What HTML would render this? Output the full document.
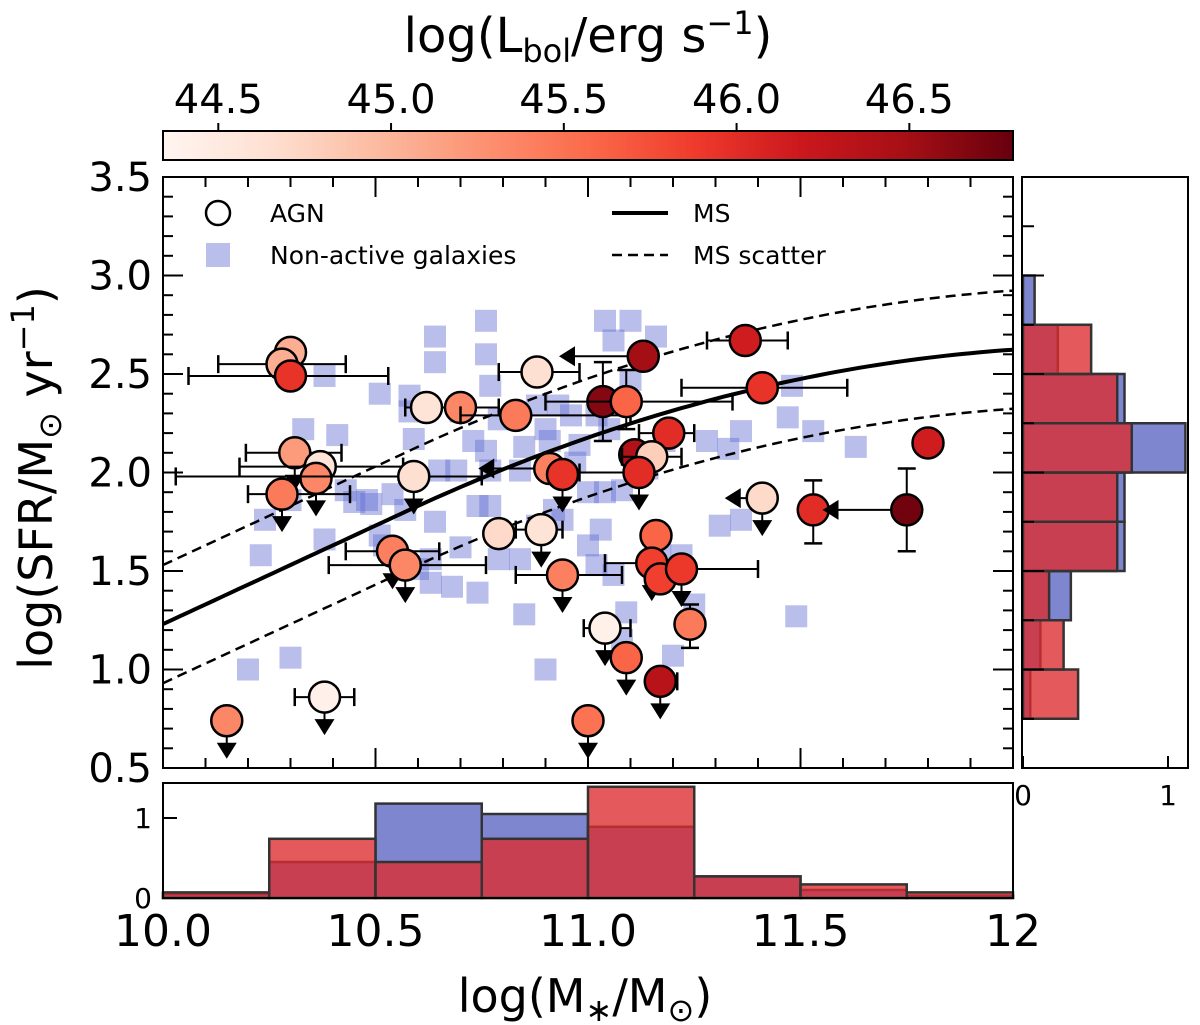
<!DOCTYPE html>
<html><head><meta charset="utf-8">
<style>
html,body{margin:0;padding:0;background:#fff;}
svg{display:block;font-family:"DejaVu Sans","Liberation Sans",sans-serif;}
</style></head>
<body>
<svg id="fig" width="1200" height="1025" viewBox="0 0 1200 1025">
<defs>
<linearGradient id="reds" x1="0" x2="1" y1="0" y2="0">
<stop offset="0" stop-color="#fff5f0"/><stop offset="0.125" stop-color="#fee0d2"/><stop offset="0.25" stop-color="#fcbba1"/>
<stop offset="0.375" stop-color="#fc9272"/><stop offset="0.5" stop-color="#fb6a4a"/><stop offset="0.625" stop-color="#ef3b2c"/>
<stop offset="0.75" stop-color="#cb181d"/><stop offset="0.875" stop-color="#a50f15"/><stop offset="1" stop-color="#67000d"/>
</linearGradient>
<clipPath id="mainclip"><rect x="163" y="177" width="850" height="591"/></clipPath>
</defs>
<g id="colorbar">
<rect x="163" y="131" width="850" height="29" fill="url(#reds)" stroke="#000" stroke-width="2"/>
<text x="588" y="52" font-size="48" text-anchor="middle">log(L<tspan font-size="32" dy="10">bol</tspan><tspan dy="-10">/erg s</tspan><tspan font-size="32" dy="-18">−1</tspan><tspan dy="18">)</tspan></text>
</g>
<g id="cbticks"></g>
<g id="main">
<g id="squares" clip-path="url(#mainclip)"></g>
<g id="mslines" clip-path="url(#mainclip)"></g>
<g id="agn"></g>
<rect x="163" y="177" width="850" height="591" fill="none" stroke="#000" stroke-width="2"/>
<g id="mainticks"></g>
</g>
<g id="legend">
<circle cx="218" cy="213" r="12" fill="#fff" stroke="#000" stroke-width="2.5"/>
<text x="270" y="222" font-size="25">AGN</text>
<rect x="206" y="243" width="24" height="24" fill="rgba(100,110,210,0.45)"/>
<text x="270" y="264" font-size="25">Non-active galaxies</text>
<line x1="612" y1="213" x2="668" y2="213" stroke="#000" stroke-width="4"/>
<text x="693" y="222" font-size="25">MS</text>
<line x1="612" y1="255" x2="668" y2="255" stroke="#000" stroke-width="2.5" stroke-dasharray="10,6"/>
<text x="693" y="264" font-size="25">MS scatter</text>
</g>
<g id="bottomhist"></g>
<g id="righthist"></g>
<text x="585" y="1012" font-size="46" text-anchor="middle">log(M<tspan font-size="32" dy="9">∗</tspan><tspan dy="-9">/M</tspan><tspan font-size="32" dy="9">⊙</tspan><tspan dy="-9">)</tspan></text>
<text transform="translate(52,478) rotate(-90)" font-size="46" text-anchor="middle">log(SFR/M<tspan font-size="32" dy="9">⊙</tspan><tspan dy="-9"> yr</tspan><tspan font-size="32" dy="-18">−1</tspan><tspan dy="18">)</tspan></text>
</svg>
<script>
// ---------- data ----------
const nonX = [10.76,10.64,11.04,11.10,11.06,11.16,10.64,10.38,10.51,10.58,10.43,10.33,10.31,10.30,10.23,10.30,10.20,10.38,10.59,10.76,10.77,10.88,10.93,10.79,10.70,10.58,11.02,11.10,10.96,10.73,10.65,10.76,10.77,10.69,10.85,10.84,10.90,10.91,10.98,11.05,10.97,11.12,11.08,11.04,11.03,11.00,10.92,10.88,10.77,10.74,10.70,10.64,10.57,10.54,10.48,10.45,10.60,10.63,10.79,10.84,10.51,10.68,10.63,10.85,10.90,11.09,11.20,11.25,11.08,11.06,11.02,11.17,11.22,11.31,11.36,11.33,11.36,11.47,11.53,11.63,11.48,11.14,11.18,11.28,11.49,11.00,10.94,10.74,10.52,10.41,10.49,10.24];
const nonY = [2.77,2.69,2.77,2.77,2.67,2.69,2.56,2.49,2.40,2.39,1.91,2.22,2.09,1.86,1.58,1.06,1.00,1.66,2.17,2.60,2.44,2.34,2.34,2.27,2.31,2.31,2.29,2.47,2.29,2.16,2.01,2.11,2.01,2.01,2.13,2.01,2.22,2.16,2.14,2.22,2.05,2.01,1.91,1.90,1.71,1.63,1.81,1.73,1.83,1.83,1.62,1.75,1.81,1.89,1.86,1.85,1.51,1.56,1.56,1.56,1.68,1.42,1.44,1.28,1.00,1.29,1.07,1.33,1.15,1.48,1.53,1.62,1.58,1.73,1.76,2.12,2.21,2.28,2.21,2.13,2.44,2.02,2.16,2.16,1.27,1.90,1.76,1.39,1.63,2.19,1.84,1.76];

const agnX  = [10.30,10.28,10.30,10.88,10.62,10.70,10.83,11.035,11.09,11.13,11.37,11.41,11.19,11.11,11.15,11.12,11.80,11.41,11.53,11.75,10.79,10.89,10.94,10.54,10.57,11.16,11.15,11.17,11.22,11.24,11.04,11.09,11.17,11.00,10.15,10.38,10.31,10.37,10.36,10.28,10.59,10.91,10.94];
const agnY  = [2.61,2.55,2.49,2.51,2.33,2.33,2.29,2.36,2.36,2.59,2.67,2.43,2.20,2.09,2.08,2.00,2.15,1.87,1.81,1.81,1.69,1.71,1.48,1.60,1.53,1.68,1.54,1.46,1.51,1.23,1.21,1.06,0.94,0.74,0.74,0.86,2.10,2.03,1.97,1.89,1.98,2.02,1.99];
const agnL  = [45.05,45.05,45.95,44.65,44.6,45.35,45.45,46.65,45.6,46.5,46.15,45.95,46.0,46.4,44.8,46.0,46.15,44.7,46.0,46.75,44.7,44.6,45.4,45.4,45.35,45.6,45.85,45.85,45.9,45.45,44.4,45.6,46.35,45.5,45.35,44.4,45.2,44.6,45.35,45.45,44.65,45.4,45.95];
const agnXlo = [null,10.13,10.06,10.79,10.57,10.67,10.70,null,10.90,null,11.28,11.22,11.12,null,11.08,10.98,null,null,null,null,null,10.83,10.83,10.43,10.39,null,11.04,null,11.24,11.22,10.99,null,11.14,null,null,10.31,10.195,10.18,null,10.20,10.03,null,null];
const agnXhi = [null,10.43,10.53,10.98,10.79,10.79,11.10,null,11.34,null,11.47,11.61,11.25,null,11.22,null,null,null,null,null,null,10.94,11.08,10.65,10.76,null,11.23,null,11.40,11.27,11.10,null,11.21,null,null,10.45,10.42,10.565,null,10.44,10.75,null,null];
const agnYlo = [null,null,null,null,null,null,null,2.16,2.22,null,null,null,null,null,null,null,null,null,1.64,1.60,null,null,null,null,null,null,null,null,null,1.11,null,null,null,null,null,null,null,null,null,null,null,null,null];
const agnYhi = [null,null,null,null,null,null,null,2.56,2.52,null,null,null,null,null,null,null,null,null,1.96,2.02,null,null,null,null,null,null,null,null,null,1.33,null,null,null,null,null,null,null,null,null,null,null,null,null];
const agnUL = [0,0,0,0,0,0,0,0,0,0,0,0,0,0,0,1,0,1,0,0,0,1,1,1,1,0,1,0,1,0,1,1,1,1,1,1,1,0,1,1,1,0,1];
const agnXL = [null,null,null,null,null,null,null,null,null,10.96,null,null,null,null,null,null,null,11.35,null,11.58,null,null,null,null,null,null,null,null,null,null,null,null,null,null,null,null,null,null,null,null,null,10.77,null];

const histBins = [10.0,10.25,10.5,10.75,11.0,11.25,11.5,11.75,12.0];
const massBlue = [0.05,0.45,1.18,1.05,0.89,0.27,0.10,0.03];
const massRed  = [0.07,0.74,0.45,0.74,1.39,0.27,0.17,0.07];
const sfrBins = [0.75,1.0,1.25,1.5,1.75,2.0,2.25,2.5,2.75,3.0];
const sfrBlue = [0.05,0.12,0.33,0.70,0.70,1.12,0.70,0.24,0.08];
const sfrRed  = [0.38,0.28,0.18,0.65,0.65,0.75,0.65,0.47,0.0];

const xTicks = [10.0,10.5,11.0,11.5,12.0];
const xTickLabels = ["10.0","10.5","11.0","11.5","12"];
const yTicks = [0.5,1.0,1.5,2.0,2.5,3.0,3.5];
const yTickLabels = ["0.5","1.0","1.5","2.0","2.5","3.0","3.5"];
const cbTicks = [44.5,45.0,45.5,46.0,46.5];
const cbTickLabels = ["44.5","45.0","45.5","46.0","46.5"];
const cbMin = 44.34, cbMax = 46.80;
const msZ = 0.487;

// ---------- scales ----------
const NS = "http://www.w3.org/2000/svg";
const X = v => 163 + (v - 10) * 425;
const Y = v => 177 + (3.5 - v) * 197;
const BY = v => 898 - v * 80;      // bottom hist
const RX = v => 1023 + v * 145;    // right hist
const CX = v => 163 + (v - cbMin) / (cbMax - cbMin) * 850;
function mk(tag, attrs, parent) { const e = document.createElementNS(NS, tag); for (const k in attrs) e.setAttribute(k, attrs[k]); parent.appendChild(e); return e; }
const redsStops = ["#fff5f0","#fee0d2","#fcbba1","#fc9272","#fb6a4a","#ef3b2c","#cb181d","#a50f15","#67000d"];
function hex(h){return [parseInt(h.slice(1,3),16),parseInt(h.slice(3,5),16),parseInt(h.slice(5,7),16)];}
function reds(L) { let t = Math.max(0, Math.min(1, (L - cbMin) / (cbMax - cbMin))) * 8; const i = Math.min(7, Math.floor(t)); const f = t - i; const a = hex(redsStops[i]), b = hex(redsStops[i+1]); return "rgb(" + a.map((c, k) => Math.round(c + (b[k] - c) * f)).join(",") + ")"; }

// colorbar ticks
const cbg = document.getElementById("cbticks");
cbTicks.forEach((t, i) => {
  const l = mk("line", {x1: CX(t), x2: CX(t), y1: 131, y2: 123, stroke: "#000", "stroke-width": 2}, cbg);
  
  
  const tx = mk("text", {x: CX(t), y: 113, "font-size": 40, "text-anchor": "middle"}, cbg);
  tx.textContent = cbTickLabels[i];
  
  
});

// squares
const sq = document.getElementById("squares");
nonX.forEach((x, i) => {
  const r = mk("rect", {x: X(x) - 11, y: Y(nonY[i]) - 11, width: 22, height: 22, fill: "rgba(100,110,210,0.45)"}, sq);
  
  
});

// MS lines
function ms(M) { const m = M - 9, r = msZ; return m - 0.5 + 1.5 * r - 0.3 * Math.pow(Math.max(0, m - 0.36 - 2.5 * r), 2); }
const msg = document.getElementById("mslines");
[[0, "4", "none", "ms-line"], [0.3, "2.5", "10,6", "ms-scatter-upper"], [-0.3, "2.5", "10,6", "ms-scatter-lower"]].forEach(s => {
  let d = "";
  for (let M = 10; M <= 12.001; M += 0.02) d += (d ? "L" : "M") + X(M).toFixed(1) + "," + Y(ms(M) + s[0]).toFixed(1);
  const p = mk("path", {d: d, fill: "none", stroke: "#000", "stroke-width": s[1], "stroke-dasharray": s[2]}, msg);
  
  
});

// AGN
const ag = document.getElementById("agn");
agnX.forEach((x, i) => {
  const cx = X(x), cy = Y(agnY[i]);
  const g = mk("g", {}, ag);
  
  
  if (agnXlo[i] !== null) {
    const a = X(agnXlo[i]), b = X(agnXhi[i] !== null ? agnXhi[i] : x);
    mk("line", {x1: a, x2: b, y1: cy, y2: cy, stroke: "#000", "stroke-width": 2}, g);
    mk("line", {x1: a, x2: a, y1: cy - 9, y2: cy + 9, stroke: "#000", "stroke-width": 2.5}, g);
    if (agnXhi[i] !== null) mk("line", {x1: b, x2: b, y1: cy - 9, y2: cy + 9, stroke: "#000", "stroke-width": 2.5}, g);
  }
  if (agnYlo[i] !== null) {
    const a = Y(agnYlo[i]), b = Y(agnYhi[i]);
    mk("line", {x1: cx, x2: cx, y1: a, y2: b, stroke: "#000", "stroke-width": 2}, g);
    mk("line", {x1: cx - 9, x2: cx + 9, y1: a, y2: a, stroke: "#000", "stroke-width": 2.5}, g);
    mk("line", {x1: cx - 9, x2: cx + 9, y1: b, y2: b, stroke: "#000", "stroke-width": 2.5}, g);
  }
  if (agnUL[i]) {
    mk("line", {x1: cx, x2: cx, y1: cy, y2: cy + 26, stroke: "#000", "stroke-width": 2}, g);
    mk("polygon", {points: `${cx-10},${cy+22} ${cx+10},${cy+22} ${cx},${cy+38}`, fill: "#000"}, g);
  }
  if (agnXL[i] !== null) {
    const e = X(agnXL[i]);
    mk("line", {x1: cx, x2: e, y1: cy, y2: cy, stroke: "#000", "stroke-width": 2}, g);
    mk("polygon", {points: `${e+4},${cy-10} ${e+4},${cy+10} ${e-12},${cy}`, fill: "#000"}, g);
  }
  mk("circle", {cx: cx, cy: cy, r: 15.5, fill: reds(agnL[i]), stroke: "#000", "stroke-width": 2.5}, g);
});

// main ticks
const mt = document.getElementById("mainticks");
function tl(x1, y1, x2, y2) { const l = mk("line", {x1, y1, x2, y2, stroke: "#000", "stroke-width": 2}, mt);   }
for (let k = 0; k <= 20; k++) {
  const v = 10 + k * 0.1, major = k % 5 === 0, len = major ? 20 : 10;
  tl(X(v), 768, X(v), 768 - len); tl(X(v), 177, X(v), 177 + len);
}
for (let k = 0; k <= 30; k++) {
  const v = 0.5 + k * 0.1, major = k % 5 === 0, len = major ? 20 : 10;
  tl(163, Y(v), 163 + len, Y(v)); tl(1013, Y(v), 1013 - len, Y(v));
}
yTicks.forEach((t, i) => {
  const tx = mk("text", {x: 152, y: Y(t) + 14, "font-size": 40, "text-anchor": "end"}, mt);
  tx.textContent = yTickLabels[i];
  
  
});

// bottom histogram
const bh = document.getElementById("bottomhist");
massBlue.forEach((v, i) => {
  const r = mk("rect", {x: X(histBins[i]), y: BY(v), width: X(histBins[i+1]) - X(histBins[i]), height: 898 - BY(v), fill: "#7f86d0", stroke: "#333", "stroke-width": 2.5}, bh);
  
  
});
massRed.forEach((v, i) => {
  const r = mk("rect", {x: X(histBins[i]), y: BY(v), width: X(histBins[i+1]) - X(histBins[i]), height: 898 - BY(v), fill: "rgba(219,45,48,0.787)", stroke: "#333", "stroke-width": 2.5}, bh);
  
  
});
mk("rect", {x: 163, y: 783, width: 850, height: 115, fill: "none", stroke: "#000", "stroke-width": 2}, bh);
[[0, "0"], [1, "1"]].forEach(t => {
  mk("line", {x1: 163, x2: 177, y1: BY(t[0]), y2: BY(t[0]), stroke: "#000", "stroke-width": 2}, bh);
  const tx = mk("text", {x: 152, y: BY(t[0]) + 10, "font-size": 28, "text-anchor": "end"}, bh);
  tx.textContent = t[1];
  
  
});
xTicks.forEach((t, i) => {
  const tx = mk("text", {x: X(t), y: 946, "font-size": 44, "text-anchor": "middle"}, bh);
  tx.textContent = xTickLabels[i];
  
  
});

// right histogram
const rh = document.getElementById("righthist");
sfrBlue.forEach((v, i) => {
  if (v <= 0) return;
  const r = mk("rect", {x: 1023, y: Y(sfrBins[i+1]), width: RX(v) - 1023, height: Y(sfrBins[i]) - Y(sfrBins[i+1]), fill: "#7f86d0", stroke: "#333", "stroke-width": 2.5}, rh);
  
  
});
sfrRed.forEach((v, i) => {
  if (v <= 0) return;
  const r = mk("rect", {x: 1023, y: Y(sfrBins[i+1]), width: RX(v) - 1023, height: Y(sfrBins[i]) - Y(sfrBins[i+1]), fill: "rgba(219,45,48,0.787)", stroke: "#333", "stroke-width": 2.5}, rh);
  
  
});
mk("rect", {x: 1022, y: 177, width: 166, height: 591, fill: "none", stroke: "#000", "stroke-width": 2}, rh);
for (let k = 0; k <= 12; k++) {
  const v = 0.5 + k * 0.25;
  mk("line", {x1: 1022, x2: k % 2 === 0 ? 1044 : 1034, y1: Y(v), y2: Y(v), stroke: "#000", "stroke-width": 2}, rh);
}
[[0, "0"], [1, "1"]].forEach(t => {
  mk("line", {x1: RX(t[0]), x2: RX(t[0]), y1: 768, y2: 756, stroke: "#000", "stroke-width": 2}, rh);
  const tx = mk("text", {x: RX(t[0]), y: 805, "font-size": 28, "text-anchor": "middle"}, rh);
  tx.textContent = t[1];
  
  
});
</script>
</body></html>
